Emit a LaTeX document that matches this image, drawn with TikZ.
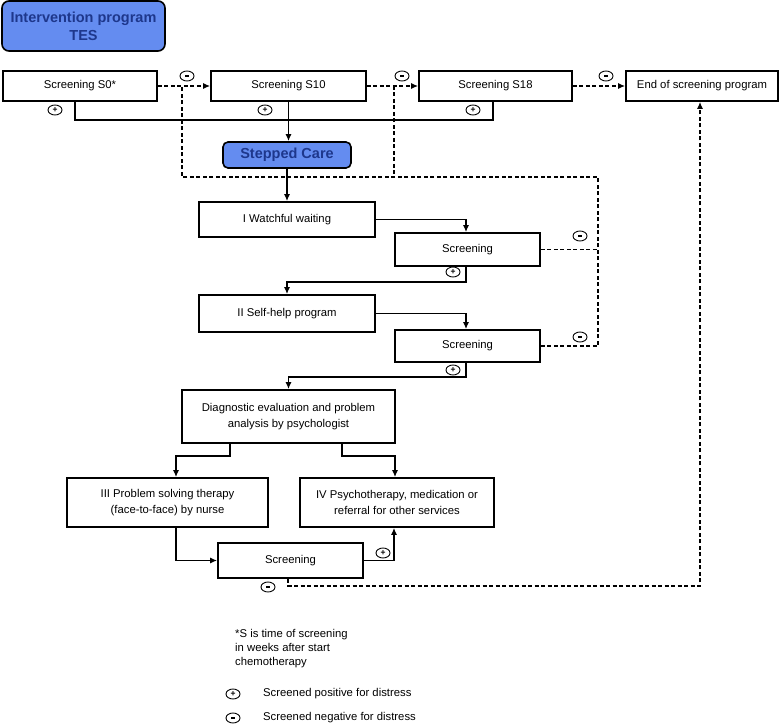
\documentclass[tikz,border=0pt]{standalone}
\usepackage{fontspec}
\setmainfont{Liberation Sans}
\usetikzlibrary{arrows.meta,shapes.geometric,calc}
\definecolor{tesfill}{RGB}{100,140,240}
\definecolor{testext}{RGB}{30,55,140}
\newcommand{\negmark}{\rule[-0.6pt]{4pt}{1.3pt}}
\begin{document}
\begin{tikzpicture}[x=1pt,y=-1pt,
  box/.style={draw,line width=1.6pt,inner sep=2pt,align=center,
    font=\fontsize{11.3}{15.5}\selectfont},
  tesbox/.style={draw,line width=1.6pt,fill=tesfill,text=testext,rounded corners=7pt,
    inner sep=2pt,align=center,font=\bfseries\fontsize{14.5}{18}\selectfont},
  conn/.style={line width=1.6pt},
  arr/.style={conn,-{Latex[length=7pt,width=6pt]}},
  dsh/.style={conn,dash pattern=on 4pt off 2.5pt},
  darr/.style={dsh,-{Latex[length=7pt,width=6pt]}},
  pm/.style={draw,ellipse,line width=0.9pt,minimum width=14pt,minimum height=10pt,
    inner sep=0pt,font=\bfseries\fontsize{8.5}{8.5}\selectfont},
  legend/.style={anchor=west,inner sep=0pt,align=left,font=\fontsize{11.3}{14}\selectfont}
]
\useasboundingbox (0,0) rectangle (779,727);

% boxes
\node[tesbox,minimum width=163pt,minimum height=50pt] (title) at (83.5,26) {Intervention program\\TES};
\node[box,minimum width=154pt,minimum height=30pt] (s0) at (80,86) {Screening S0*};
\node[box,minimum width=155pt,minimum height=30pt] (s10) at (288.5,86) {Screening S10};
\node[box,minimum width=153pt,minimum height=30pt] (s18) at (495.5,86) {Screening S18};
\node[box,minimum width=152pt,minimum height=30pt] (end) at (702,86) {End of screening program};
\node[tesbox,minimum width=128pt,minimum height=26pt,rounded corners=5pt] (stepped) at (287,155) {Stepped Care};
\node[box,minimum width=176pt,minimum height=35pt] (ww) at (287,219.5) {I Watchful waiting};
\node[box,minimum width=145pt,minimum height=33pt] (sc1) at (467.5,249.5) {Screening};
\node[box,minimum width=176pt,minimum height=37pt] (sh) at (287,313.5) {II Self-help program};
\node[box,minimum width=145pt,minimum height=32pt] (sc2) at (467.5,346) {Screening};
\node[box,minimum width=213pt,minimum height=53pt] (diag) at (288.5,416.5) {Diagnostic evaluation and problem\\analysis by psychologist};
\node[box,minimum width=201pt,minimum height=49pt] (p3) at (167.5,502.5) {III Problem solving therapy\\(face-to-face) by nurse};
\node[box,minimum width=194pt,minimum height=49pt] (p4) at (397,502.5) {IV Psychotherapy, medication or\\referral for other services};
\node[box,minimum width=145pt,minimum height=35pt] (sc3) at (290.5,560.5) {Screening};

% junctions of the dashed return line
\coordinate (j1) at (182,86);
\coordinate (j2) at (394,86);
\coordinate (fb) at (598,177);

% screening program
\draw[darr] (s0) -- (s10);
\draw[darr] (s10) -- (s18);
\draw[darr] (s18) -- (end);
\draw[conn] ([xshift=-5pt]s0.south) -- ++(0,18) -| ([xshift=-2.5pt]s18.south);
\draw[arr] (s10.south) -- (s10.south |- stepped.north);
\draw[arr] (stepped.south) -- (stepped.south |- ww.north);

% stepped care
\draw[arr] (ww.east) -| ([xshift=-1.5pt]sc1.north);
\draw[arr] ([xshift=-1.5pt]sc1.south) -- ++(0,15) -| (sh.north);
\draw[arr] (sh.east) -| ([xshift=-1.5pt]sc2.north);
\draw[arr] ([xshift=-1.5pt]sc2.south) -- ++(0,14) -| (diag.north);
\draw[arr] ([xshift=-58.5pt]diag.south) -- ++(0,12) -| ([xshift=8.5pt]p3.north);
\draw[arr] ([xshift=53.5pt]diag.south) -- ++(0,12) -| ([xshift=-2pt]p4.north);
\draw[arr] ([xshift=8.5pt]p3.south) |- (sc3.west);
\draw[arr] (sc3.east) -| ([xshift=-3pt]p4.south);

% negative returns
\draw[dsh] (sc2.east) -| (fb) -| (j1);
\draw[dsh] (sc1.east) -- (sc1.east -| fb);
\draw[dsh] (j2) -- (j2 |- fb);
\draw[darr] ([xshift=-2.5pt]sc3.south) -- ++(0,7) -| ([xshift=-2pt]end.south);

% +/- marks
\node[pm] (n1) at (187,76) {\negmark};
\node[pm] (n2) at (402,76) {\negmark};
\node[pm] (n3) at (606,76) {\negmark};
\node[pm] (q1) at (55,110) {+};
\node[pm] (q2) at (265,110) {+};
\node[pm] (q3) at (473,110) {+};
\node[pm] (n4) at (580,236) {\negmark};
\node[pm] (n5) at (580,337) {\negmark};
\node[pm] (q4) at (453,272) {+};
\node[pm] (q5) at (453,370) {+};
\node[pm] (q6) at (383,553) {+};
\node[pm] (n6) at (268,587) {\negmark};

% legend
\node[legend] (note) at (235,649) {*S is time of screening\\in weeks after start\\chemotherapy};
\node[pm] (lp) at (233,694) {+};
\node[legend] (lpt) at (263,694) {Screened positive for distress};
\node[pm] (ln) at (233,718) {\negmark};
\node[legend] (lnt) at (263,718) {Screened negative for distress};
\end{tikzpicture}
\end{document}
